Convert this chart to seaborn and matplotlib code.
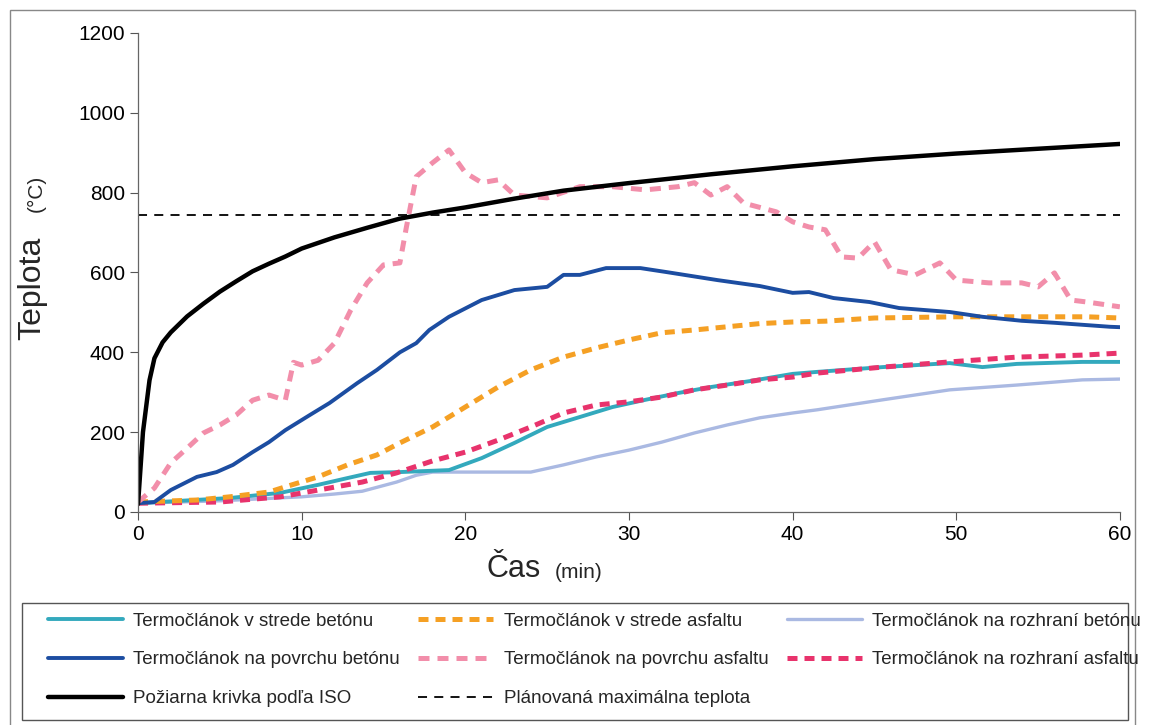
import matplotlib.pyplot as plt
import seaborn as sns
from matplotlib.patches import Rectangle

# Data
iso_t = [0, 0.3, 0.7, 1, 1.5, 2, 3, 4, 5, 6, 7, 8, 9, 10, 12, 14, 16, 18, 20, 23, 26, 30, 35, 40, 45, 50, 55, 60]
iso_v = [20, 200, 330, 385, 425, 450, 490, 522, 552, 578, 603, 622, 640, 660, 688, 712, 735, 750, 763, 785, 805, 824, 846, 866, 884, 898, 910, 922]

plan_t = [0, 60]
plan_v = [745, 745]

pink_t = [0, 1, 2, 3, 4, 5, 6, 7, 8, 9, 9.5, 10, 11, 12, 13, 14, 15, 16, 16.4, 17, 18, 19, 20, 21, 22, 23, 25, 27,
          29, 31, 33, 34, 35, 36, 37, 39, 40, 41, 42, 43, 44, 45, 46, 47.5, 49, 50, 52, 54, 55, 56, 57, 58, 60]
pink_v = [25, 60, 123, 160, 198, 218, 243, 280, 293, 280, 375, 368, 380, 423, 506, 574, 619, 624, 714, 840, 875, 907,
          850, 825, 832, 794, 787, 815, 815, 807, 815, 825, 794, 815, 774, 752, 727, 714, 707, 639, 636, 677, 607,
          594, 624, 581, 574, 574, 564, 599, 531, 526, 514]

blue_t = [0, 1, 2, 3.6, 4.8, 5.8, 7, 8, 9, 10.5, 11.7, 13.4, 14.6, 16, 17, 17.8, 19, 21, 23, 25, 26, 27, 28.6, 30.7,
          32.3, 35.4, 38, 40, 41, 42.5, 44.7, 46.5, 49.6, 51.6, 54, 56, 59.4, 60]
blue_v = [22, 25, 55, 88, 100, 118, 150, 175, 205, 243, 273, 323, 356, 400, 423, 456, 489, 531, 556, 564, 594, 594,
          611, 611, 601, 581, 566, 549, 551, 536, 526, 511, 501, 489, 479, 474, 464, 463]

orange_t = [0, 3.6, 5.6, 8, 9, 11, 12.8, 14.6, 16, 18, 20, 22, 24, 26, 28, 30, 32, 34, 36, 38, 40, 42, 45, 50, 54, 58, 60]
orange_v = [25, 30, 38, 50, 63, 88, 118, 143, 173, 213, 263, 313, 356, 388, 411, 431, 449, 456, 464, 472, 476, 478,
            486, 489, 489, 489, 486]

teal_t = [0, 5.6, 8.7, 11, 12.8, 14.2, 16, 19, 21, 23, 25, 27, 29, 31, 33, 35, 37.4, 40, 41.5, 45.5, 49.6, 51.6,
          53.7, 57.7, 60]
teal_v = [22, 35, 48, 68, 85, 98, 100, 105, 135, 173, 213, 238, 263, 281, 298, 313, 328, 346, 351, 363, 373, 363,
          371, 376, 376]

mag_t = [0, 5, 8.7, 11.7, 13.7, 15.8, 18, 20, 22, 24, 26, 28, 30, 32, 34, 36, 38, 40, 41.5, 45.5, 49.6, 53.7, 57.7, 60]
mag_v = [22, 25, 38, 60, 75, 98, 128, 150, 180, 213, 248, 268, 276, 288, 306, 318, 331, 338, 348, 363, 376, 388,
         393, 398]

lb_t = [0, 5, 10, 12, 13.7, 15.8, 17, 18, 20, 24, 26, 28, 30, 32, 34, 36, 38, 40, 41.5, 45.5, 49.6, 53.7, 57.7, 60]
lb_v = [22, 28, 38, 45, 52, 75, 92, 100, 100, 100, 118, 138, 155, 175, 198, 218, 236, 248, 256, 281, 306, 318,
        331, 333]

labels = {
    'teal': 'Termočlánok v strede betónu',
    'blue': 'Termočlánok na povrchu betónu',
    'iso': 'Požiarna krivka podľa ISO',
    'orange': 'Termočlánok v strede asfaltu',
    'pink': 'Termočlánok na povrchu asfaltu',
    'plan': 'Plánovaná maximálna teplota',
    'lb': 'Termočlánok na rozhraní betónu',
    'mag': 'Termočlánok na rozhraní asfaltu',
}

sns.set_style('white')
plt.rcParams['font.family'] = ['Liberation Sans', 'DejaVu Sans']

fig = plt.figure(figsize=(11.64, 7.25), dpi=100)
ax = fig.add_axes([0.1186, 0.2938, 0.8435, 0.6607])

sns.lineplot(x=lb_t, y=lb_v, ax=ax, color='#aab9e2', linewidth=2.4, label=labels['lb'])
sns.lineplot(x=teal_t, y=teal_v, ax=ax, color='#33a9bd', linewidth=2.8, label=labels['teal'])
sns.lineplot(x=mag_t, y=mag_v, ax=ax, color='#e8336c', linewidth=3.6, linestyle=(0, (2.0, 1.4)), label=labels['mag'])
sns.lineplot(x=orange_t, y=orange_v, ax=ax, color='#f5a024', linewidth=3.6, linestyle=(0, (2.0, 1.4)), label=labels['orange'])
sns.lineplot(x=blue_t, y=blue_v, ax=ax, color='#1c4da1', linewidth=2.8, label=labels['blue'])
sns.lineplot(x=pink_t, y=pink_v, ax=ax, color='#f28eaa', linewidth=3.6, linestyle=(0, (2.2, 1.6)), label=labels['pink'])
sns.lineplot(x=plan_t, y=plan_v, ax=ax, color='black', linewidth=1.3, linestyle=(0, (5, 4)), label=labels['plan'])
sns.lineplot(x=iso_t, y=iso_v, ax=ax, color='black', linewidth=3.2, label=labels['iso'])

ax.set_xlim(0, 60)
ax.set_ylim(0, 1200)
ax.set_xticks(range(0, 61, 10))
ax.set_yticks(range(0, 1201, 200))
ax.tick_params(axis='both', direction='out', length=6, width=0.8, colors='#555555', labelcolor='black',
               labelsize=15, bottom=True, left=True)
for s in ['top', 'right']:
    ax.spines[s].set_visible(False)
for s in ['left', 'bottom']:
    ax.spines[s].set_color('#666666')
    ax.spines[s].set_linewidth(0.9)
ax.set_xlabel('')
ax.set_ylabel('')

# axis titles
fig.text(0.028, 0.603, 'Teplota', rotation=90, fontsize=23, ha='center', va='center')
fig.text(0.031, 0.733, '(°C)', rotation=90, fontsize=15, ha='center', va='center')
fig.text(0.441, 0.215, 'Čas', fontsize=22, ha='center', va='center')
fig.text(0.497, 0.21, '(min)', fontsize=15, ha='center', va='center')

# legend, column order as in the original (text runs past the frame like the scan)
handles, labs = ax.get_legend_handles_labels()
hmap = dict(zip(labs, handles))
order = ['teal', 'blue', 'iso', 'orange', 'pink', 'plan', 'lb', 'mag']
ax.get_legend().remove()
fig.legend([hmap[labels[k]] for k in order], [labels[k] for k in order],
           loc='upper left', bbox_to_anchor=(0.041, 0.155), ncol=3, frameon=False,
           handlelength=4.0, handletextpad=0.55, labelspacing=1.15, borderpad=0,
           borderaxespad=0, columnspacing=1.0, fontsize=13.5)

fig.patches.append(Rectangle((0.0189, 0.0069), 0.950, 0.161, transform=fig.transFigure,
                             fill=False, edgecolor='#555555', linewidth=1.0))
# outer page frame
fig.patches.append(Rectangle((0.0086, -0.01), 0.9665, 0.996, transform=fig.transFigure,
                             fill=False, edgecolor='#888888', linewidth=1.0))

plt.savefig('out.png', dpi=100)
